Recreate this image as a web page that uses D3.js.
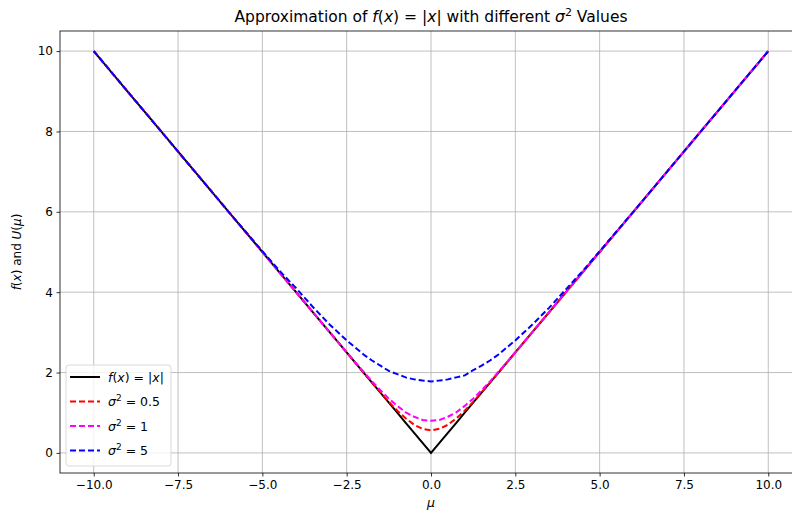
<!DOCTYPE html>
<html><head><meta charset="utf-8">
<script src="https://cdn.jsdelivr.net/npm/d3@7"></script>
<style>body{margin:0;background:#fff;} svg{font-family:"DejaVu Sans",sans-serif;}</style>
</head><body><svg id="c" width="792" height="516"></svg>
<script>
const mu = [-10,-9,-8,-7,-6,-5.5,-5,-4.5,-4,-3.5,-3,-2.5,-2,-1.75,-1.5,-1.25,-1,-0.75,-0.5,-0.25,0,0.25,0.5,0.75,1,1.25,1.5,1.75,2,2.5,3,3.5,4,4.5,5,5.5,6,7,8,9,10];
const absVals = [10,9,8,7,6,5.5,5,4.5,4,3.5,3,2.5,2,1.75,1.5,1.25,1,0.75,0.5,0.25,0,0.25,0.5,0.75,1,1.25,1.5,1.75,2,2.5,3,3.5,4,4.5,5,5.5,6,7,8,9,10];
const sig05 = [10,9,8,7,6,5.5,5,4.5,4,3.5,3,2.5,2.0,1.75,1.51,1.27,1.05,0.86,0.70,0.60,0.56,0.60,0.70,0.86,1.05,1.27,1.51,1.75,2.0,2.5,3,3.5,4,4.5,5,5.5,6,7,8,9,10];
const sig1 = [10,9,8,7,6,5.5,5,4.5,4,3.5,3.0,2.5,2.02,1.78,1.56,1.35,1.17,1.01,0.90,0.82,0.80,0.82,0.90,1.01,1.17,1.35,1.56,1.78,2.02,2.5,3.0,3.5,4,4.5,5,5.5,6,7,8,9,10];
const sig5 = [10.0,9.0,8.0,7.0,6.0,5.51,5.02,4.54,4.10,3.63,3.19,2.80,2.45,2.30,2.17,2.04,1.96,1.88,1.83,1.80,1.78,1.80,1.83,1.88,1.93,2.06,2.17,2.30,2.45,2.80,3.19,3.61,4.07,4.53,5.02,5.51,6.0,7.0,8.0,9.0,10.0];
const xTicks = [-10,-7.5,-5,-2.5,0,2.5,5,7.5,10];
const yTicks = [0,2,4,6,8,10];

const svg = d3.select("#c");
const L=60, R=802, T=31, B=473;
const x = d3.scaleLinear().domain([-11,11]).range([L,R]);
const y = d3.scaleLinear().domain([-0.5,10.5]).range([B,T]);

// grid
svg.append("g").selectAll("line").data(xTicks).join("line")
  .attr("x1",d=>x(d)).attr("x2",d=>x(d)).attr("y1",T).attr("y2",B)
  .attr("stroke","#b0b0b0").attr("stroke-width",0.8);
svg.append("g").selectAll("line").data(yTicks).join("line")
  .attr("y1",d=>y(d)).attr("y2",d=>y(d)).attr("x1",L).attr("x2",R)
  .attr("stroke","#b0b0b0").attr("stroke-width",0.8);

const line = d3.line().x((d,i)=>x(mu[i])).y(d=>y(d));
const series = [
  {v:absVals,c:"#000000",dash:null},
  {v:sig05,c:"#ff0000",dash:"6,3"},
  {v:sig1,c:"#ff00ff",dash:"6,3"},
  {v:sig5,c:"#0000ff",dash:"6,3"}
];
series.forEach(s=>{
  svg.append("path").attr("d",line(s.v)).attr("fill","none")
    .attr("stroke",s.c).attr("stroke-width",2).attr("stroke-dasharray",s.dash);
});

// axes
const xa = svg.append("g").attr("transform",`translate(0,${B})`)
  .call(d3.axisBottom(x).tickValues(xTicks).tickFormat(d=>d3.format(".1f")(d).replace("-","\u2212")).tickSize(3.5).tickPadding(3.5));
const ya = svg.append("g").attr("transform",`translate(${L},0)`)
  .call(d3.axisLeft(y).tickValues(yTicks).tickFormat(d=>d).tickSize(3.5).tickPadding(3.5));
[xa,ya].forEach(a=>{a.select(".domain").remove();
  a.selectAll("text").attr("font-size",12).attr("fill","#000").attr("font-family","DejaVu Sans");
  a.selectAll("line").attr("stroke","#000").attr("stroke-width",0.8);});
// spines
svg.append("rect").attr("x",L).attr("y",T).attr("width",R-L).attr("height",B-T)
  .attr("fill","none").attr("stroke","#000").attr("stroke-width",0.8);

// title
const t = svg.append("text").attr("x",431).attr("y",22).attr("text-anchor","middle").attr("font-size",15.5);
t.append("tspan").text("Approximation of ");
t.append("tspan").attr("font-style","italic").text("f");
t.append("tspan").text("(");
t.append("tspan").attr("font-style","italic").text("x");
t.append("tspan").text(") = |");
t.append("tspan").attr("font-style","italic").text("x");
t.append("tspan").text("| with different ");
t.append("tspan").attr("font-style","italic").text("σ");
t.append("tspan").attr("font-size",11).attr("dy",-6).text("2");
t.append("tspan").attr("dy",6).text(" Values");

// x label
svg.append("text").attr("x",431).attr("y",507).attr("text-anchor","middle").attr("font-size",12.5).attr("font-style","italic").text("μ");
// y label
const yl = svg.append("text").attr("transform","translate(21,252) rotate(-90)").attr("text-anchor","middle").attr("font-size",12);
yl.append("tspan").attr("font-style","italic").text("f");
yl.append("tspan").text("(");
yl.append("tspan").attr("font-style","italic").text("x");
yl.append("tspan").text(") and ");
yl.append("tspan").attr("font-style","italic").text("U");
yl.append("tspan").text("(");
yl.append("tspan").attr("font-style","italic").text("μ");
yl.append("tspan").text(")");

// legend
const legLabels = [
  [["f","i"],["(",""],["x","i"],[") = |",""],["x","i"],["|",""]],
  [["σ","i"],["2","s"],[" = 0.5",""]],
  [["σ","i"],["2","s"],[" = 1",""]],
  [["σ","i"],["2","s"],[" = 5",""]]
];
const lg = svg.append("g");
lg.append("rect").attr("x",66).attr("y",365).attr("width",105).attr("height",101).attr("rx",3)
  .attr("fill","#fff").attr("fill-opacity",0.8).attr("stroke","#d0d0d0").attr("stroke-width",0.8);
series.forEach((s,i)=>{
  const yy = 377 + i*24.5;
  lg.append("line").attr("x1",70).attr("x2",100).attr("y1",yy).attr("y2",yy)
    .attr("stroke",s.c).attr("stroke-width",2).attr("stroke-dasharray",s.dash);
  const tx = lg.append("text").attr("x",108).attr("y",yy+4.5).attr("font-size",12.5);
  legLabels[i].forEach(p=>{
    const ts = tx.append("tspan").text(p[0]);
    if(p[1]==="i") ts.attr("font-style","italic");
    if(p[1]==="s") ts.attr("font-size",9).attr("dy",-5);
    if(p[1]==="" && p[0].startsWith(" = ")) ts.attr("dy",5);
  });
});
</script></body></html>
